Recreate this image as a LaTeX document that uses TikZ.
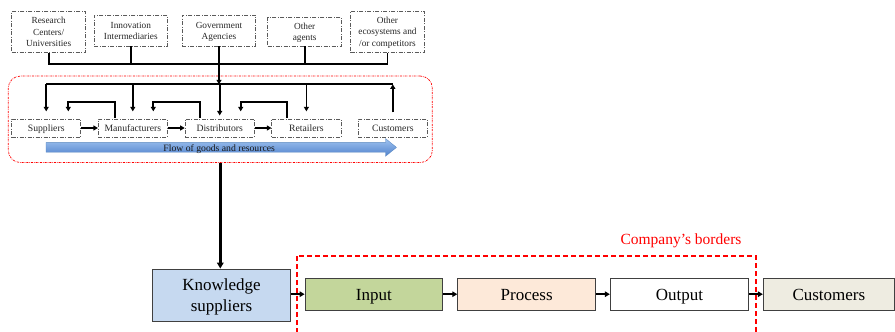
\documentclass[tikz,border=0pt]{standalone}
\usepackage{fontspec}
\setmainfont{Liberation Serif}
\usetikzlibrary{arrows.meta,calc}
\definecolor{boxgray}{RGB}{90,90,90}
\definecolor{ksblue}{RGB}{198,217,240}
\definecolor{ingreen}{RGB}{195,214,155}
\definecolor{prpeach}{RGB}{253,233,217}
\definecolor{cucream}{RGB}{238,236,225}
\definecolor{arrtop}{RGB}{160,195,240}
\definecolor{arrbot}{RGB}{80,130,205}
\definecolor{arredge}{RGB}{79,129,189}
\newcommand{\cell}[2][0pt]{\raisebox{-#1}[\height][\depth]{\begin{tabular}{@{}c@{}}#2\end{tabular}}}
\begin{document}
\begin{tikzpicture}[x=1pt,y=-1pt,
  topbox/.style={draw=boxgray, line width=0.7pt, dash pattern=on 4pt off 1.5pt on 1pt off 1.5pt,
    inner sep=0pt, text=black!85, font=\fontsize{9.3}{11.3}\selectfont},
  midbox/.style={draw=boxgray, line width=0.7pt, dash pattern=on 4pt off 1.5pt on 1pt off 1.5pt,
    inner sep=0pt, text=black!85, minimum height=18pt, font=\fontsize{9.7}{11}\selectfont},
  ecobox/.style={draw=red, line width=0.7pt, dash pattern=on 2pt off 1pt on 0.6pt off 1pt,
    rounded corners=12pt, inner sep=0pt},
  botbox/.style={draw=black!75, line width=0.8pt, inner sep=0pt,
    minimum width=138pt, minimum height=31.7pt, font=\fontsize{17}{21}\selectfont},
  conn/.style={line width=1.8pt, black},
  arr/.style={-{Triangle[length=4.5pt,width=5pt]}},
  bigconn/.style={line width=2.5pt, black, -{Triangle[length=6pt,width=6.5pt]}},
  botconn/.style={line width=2.5pt, black, -{Triangle[length=5pt,width=5.5pt]}}
]
\useasboundingbox (0,0) rectangle (895,332);

% ecosystem frame
\node[ecobox, minimum width=424pt, minimum height=86.5pt] (eco) at (220.3,119.3) {};

% top boxes
\node[topbox, minimum width=74pt, minimum height=40.6pt] (rc) at (48.7,32) {\cell[1pt]{Research\\Centers/\\Universities}};
\node[topbox, minimum width=73pt, minimum height=31pt] (ii) at (130.8,30.5) {\cell[1pt]{Innovation\\Intermediaries}};
\node[topbox, minimum width=73.4pt, minimum height=31pt] (ga) at (219,30.5) {\cell[1pt]{Government\\Agencies}};
\node[topbox, minimum width=74pt, minimum height=28.7pt] (oa) at (304.7,31.7) {\cell[1pt]{Other\\agents}};
\node[topbox, minimum width=73.6pt, minimum height=41.3pt] (oe) at (387.5,31.7) {\cell[1pt]{Other\\ecosystems and\\/or competitors}};

% middle boxes
\node[midbox, minimum width=69pt] (sup) at (46.2,128) {\cell[1.5pt]{Suppliers}};
\node[midbox, minimum width=69pt] (man) at (132.8,128) {\cell[1.5pt]{Manufacturers}};
\node[midbox, minimum width=69.3pt] (dis) at (219.7,128) {\cell[1.5pt]{Distributors}};
\node[midbox, minimum width=69.3pt] (ret) at (306.4,128) {\cell[1.5pt]{Retailers}};
\node[midbox, minimum width=69pt] (cus) at (392.8,128) {\cell[1.5pt]{Customers}};

\coordinate (bus1) at (0,64.3);
\coordinate (bus2) at (0,84.3);

% top bus
\draw[conn] (rc.south) -- (rc.south |- bus1) -| (oe.south);
\foreach \n in {ii,ga,oa} \draw[conn] (\n.south) -- (\n.south |- bus1);
\draw[conn,arr] (ga.south |- bus1) -- (ga.south |- bus2);

% second bus
\draw[conn] (sup.north |- bus2) -- (cus.north |- bus2);
\foreach \n in {sup,man,ret} \draw[conn,arr,shorten >=7.3pt] (\n.north |- bus2) -- (\n.north);
\draw[conn,arr,shorten >=3.2pt] (dis.north |- bus2) -- (dis.north);
\draw[conn,arr] ($(cus.north)+(0,-6.2)$) -- (cus.north |- bus2);

% feedback loops
\draw[conn,arr] ($(man.north)+(-17.8,-0.6)$) -- ++(0,-16) -| ($(sup.north)+(22.1,-7.3)$);
\draw[conn,arr] ($(dis.north)+(-19.7,-0.6)$) -- ++(0,-16) -| ($(man.north)+(20.5,-7.3)$);
\draw[conn,arr] ($(ret.north)+(-19.7,-0.6)$) -- ++(0,-16) -| ($(dis.north)+(21,-7.3)$);

% forward arrows
\draw[conn,arr] (sup.east) -- (man.west);
\draw[conn,arr] (man.east) -- (dis.west);
\draw[conn,arr] (dis.east) -- (ret.west);

% flow arrow
\shade[top color=arrtop, bottom color=arrbot, draw=arredge, line width=0.3pt]
  (46,142.6) -- (385.5,142.6) -- (385.5,138.5) -- (396.5,147.4) -- (385.5,156.3)
  -- (385.5,152.2) -- (46,152.2) -- cycle;
\node[font=\fontsize{9.7}{11}\selectfont, text=black!90, inner sep=0pt] (flow) at (219.2,147.6) {\cell[1.5pt]{Flow of goods and resources}};

% bottom row
\node[botbox, fill=ksblue, minimum width=138.4pt, minimum height=52pt] (ks) at (221.5,295) {\cell[2.2pt]{Knowledge\\suppliers}};
\node[botbox, fill=ingreen, minimum width=137.7pt] (in) at (373.85,294.2) {\cell[2.2pt]{Input}};
\node[botbox, fill=prpeach] (pr) at (526.7,294.2) {\cell[2.2pt]{Process}};
\node[botbox, fill=white, minimum width=138.4pt] (out) at (679.5,294.2) {\cell[2.2pt]{Output}};
\node[botbox, fill=cucream, minimum width=131.2pt] (cu) at (828.9,294.2) {\cell[2.2pt]{Customers}};

\draw[bigconn] (eco.south) -- (eco.south |- ks.north);
\draw[botconn] (ks.east |- in.west) -- (in.west);
\draw[botconn] (in.east) -- (pr.west);
\draw[botconn] (pr.east) -- (out.west);
\draw[botconn] (out.east) -- (cu.west);

% company border
\draw[red, line width=1.6pt, dash pattern=on 5pt off 3pt] (296.7,333) -- (296.7,255.7) -- (755.7,255.7) -- (755.7,333);
\node[text=red, font=\fontsize{15.5}{18}\selectfont, inner sep=0pt] (cb) at (681,241) {Company’s borders};
\end{tikzpicture}
\end{document}
